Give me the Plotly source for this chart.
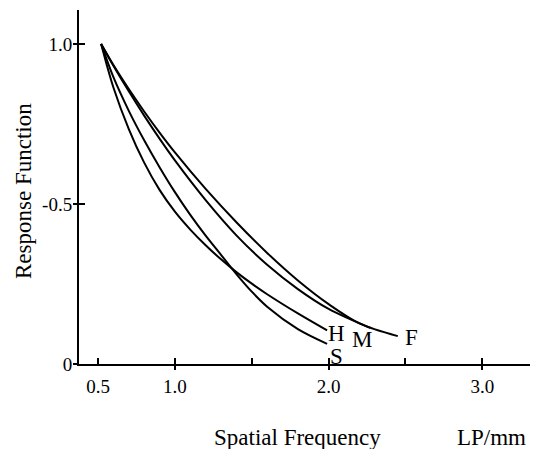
import plotly.graph_objects as go

# ---- data ----
f_x = [0.52, 0.6, 0.7, 0.8, 0.9, 1.0, 1.2, 1.4, 1.6, 1.8, 2.0, 2.2, 2.45]
f_y = [1.0, 0.934, 0.859, 0.789, 0.723, 0.661, 0.547, 0.443, 0.347, 0.261, 0.187, 0.127, 0.087]

m_x = [0.52, 0.6, 0.7, 0.8, 0.9, 1.0, 1.2, 1.4, 1.6, 1.8, 2.0, 2.27]
m_y = [1.0, 0.932, 0.852, 0.776, 0.704, 0.636, 0.512, 0.402, 0.31, 0.234, 0.172, 0.113]

h_x = [0.52, 0.6, 0.7, 0.8, 0.9, 1.0, 1.1, 1.2, 1.3, 1.4, 1.5, 1.6, 1.8, 1.99]
h_y = [1.0, 0.864, 0.734, 0.629, 0.544, 0.476, 0.42, 0.371, 0.327, 0.287, 0.251, 0.218, 0.158, 0.105]

s_x = [0.52, 0.6, 0.7, 0.8, 0.9, 1.0, 1.1, 1.2, 1.3, 1.4, 1.5, 1.6, 1.8, 1.99]
s_y = [1.0, 0.896, 0.791, 0.699, 0.615, 0.537, 0.466, 0.401, 0.341, 0.281, 0.226, 0.179, 0.109, 0.063]

x_tickvals = [0.5, 1.0, 1.5, 2.0, 2.5, 3.0]
x_ticktext = ["0.5", "1.0", "", "2.0", "", "3.0"]
y_tickvals = [0, 0.5, 1.0]
y_ticktext = ["0", "-0.5", "1.0"]

curve_names = ["F", "M", "H", "S"]
label_pos = {"H": (2.049, 0.094), "M": (2.219, 0.075), "F": (2.538, 0.084), "S": (2.049, 0.022)}

FONT = "Liberation Serif"

fig = go.Figure()
for name, xs, ys in zip(curve_names, [f_x, m_x, h_x, s_x], [f_y, m_y, h_y, s_y]):
    fig.add_trace(go.Scatter(x=xs, y=ys, mode="lines", name=name,
                             line=dict(color="black", width=2, shape="spline", smoothing=0.9),
                             showlegend=False, hoverinfo="skip"))

for name in curve_names:
    lx, ly = label_pos[name]
    fig.add_annotation(x=lx, y=ly, xref="x", yref="y", text=name, showarrow=False,
                       font=dict(family=FONT, size=23, color="black"))

fig.add_annotation(x=297, y=437, xref="paper", yref="paper", text="Spatial Frequency",
                   showarrow=False, font=dict(family=FONT, size=23, color="black"))
fig.add_annotation(x=491, y=437, xref="paper", yref="paper", text="LP/mm",
                   showarrow=False, font=dict(family=FONT, size=23, color="black"))
fig.add_annotation(x=23, y=191, xref="paper", yref="paper", text="Response Function",
                   textangle=-90, showarrow=False, font=dict(family=FONT, size=23, color="black"))

# convert pixel positions of free annotations into paper coords
W, H = 535, 449
L, R, T, B = 79, 5, 10, 85
pw, ph = W - L - R, H - T - B
for ann in fig.layout.annotations:
    if ann.xref == "paper":
        ann.x = (ann.x - L) / pw
        ann.y = (H - B - ann.y) / ph
        ann.xanchor = "center"
        ann.yanchor = "middle"

fig.update_layout(
    width=W, height=H,
    margin=dict(l=L, r=R, t=T, b=B, pad=0),
    paper_bgcolor="white", plot_bgcolor="white",
    font=dict(family=FONT, size=19, color="black"),
    xaxis=dict(range=[0.376, 3.31], showgrid=False, zeroline=False,
               showline=True, linecolor="black", linewidth=2,
               tickmode="array", tickvals=x_tickvals, ticktext=x_ticktext,
               ticks="inside", ticklen=6, tickwidth=1.5, tickcolor="black",
               ticklabelstandoff=4,
               minor=dict(ticks="outside", tickvals=[1.0, 2.0, 3.0], ticklen=4,
                          tickwidth=1.5, tickcolor="black", showgrid=False),
               tickfont=dict(family=FONT, size=19, color="black")),
    yaxis=dict(range=[0, 1.106], showgrid=False, zeroline=False,
               showline=True, linecolor="black", linewidth=2,
               tickmode="array", tickvals=y_tickvals, ticktext=y_ticktext,
               ticks="outside", ticklen=4, tickwidth=1.5, tickcolor="black",
               ticklabelstandoff=-3,
               minor=dict(ticks="inside", tickvals=[0.5, 1.0], ticklen=6,
                          tickwidth=1.5, tickcolor="black", showgrid=False),
               tickfont=dict(family=FONT, size=19, color="black")),
)

fig.write_html("out.html", config={"displayModeBar": False},
               post_script="document.body.style.margin='0';document.body.style.padding='0';")
